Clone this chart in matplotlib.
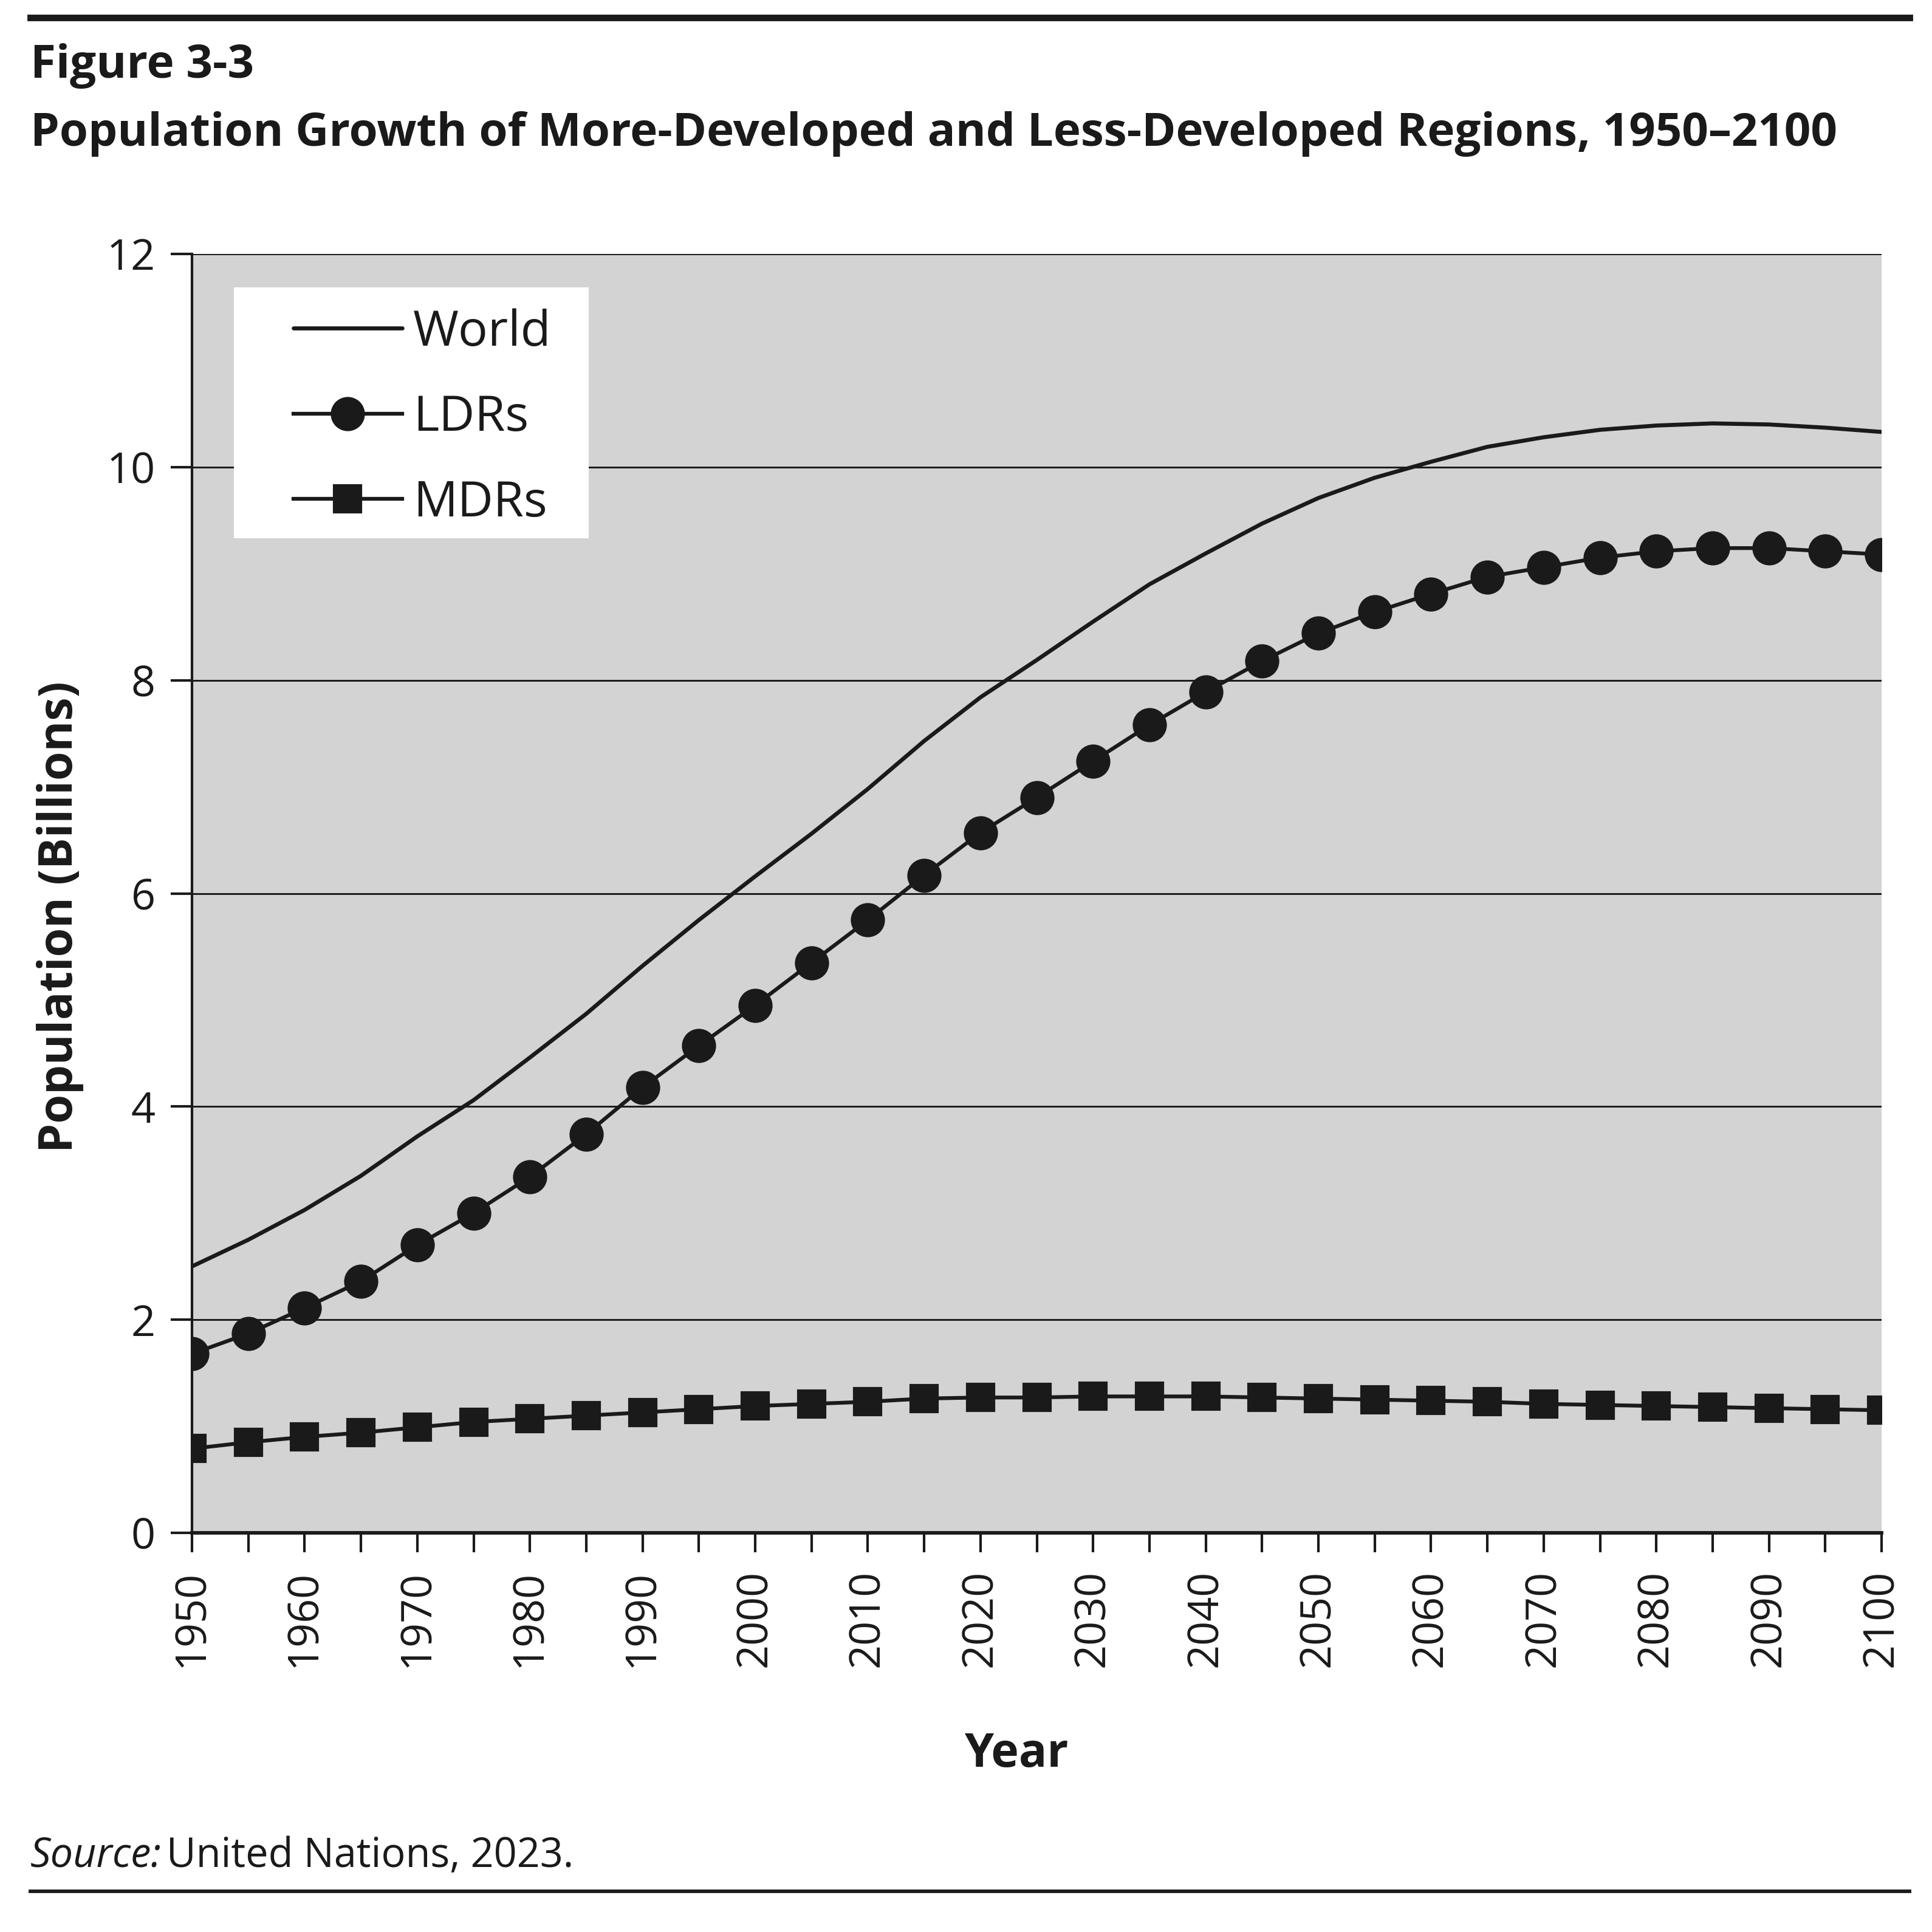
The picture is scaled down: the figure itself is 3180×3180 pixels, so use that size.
import matplotlib
matplotlib.use("Agg")
import matplotlib.pyplot as plt
from matplotlib.lines import Line2D
from matplotlib.patches import Rectangle

years = list(range(1950, 2101, 5))
world = [2.50, 2.75, 3.03, 3.35, 3.72, 4.06, 4.46, 4.87, 5.32, 5.75,
         6.16, 6.56, 6.98, 7.43, 7.84, 8.19, 8.55, 8.90, 9.19, 9.47,
         9.71, 9.90, 10.05, 10.19, 10.28, 10.35, 10.39, 10.41, 10.40, 10.37, 10.33]
ldrs = [1.68, 1.87, 2.11, 2.36, 2.70, 3.00, 3.34, 3.74, 4.18, 4.57,
        4.95, 5.35, 5.75, 6.17, 6.57, 6.90, 7.24, 7.58, 7.89, 8.18,
        8.44, 8.64, 8.81, 8.97, 9.06, 9.15, 9.21, 9.24, 9.24, 9.21, 9.18]
mdrs = [0.79, 0.85, 0.90, 0.94, 0.99, 1.04, 1.07, 1.10, 1.13, 1.16,
        1.19, 1.21, 1.23, 1.26, 1.27, 1.27, 1.28, 1.28, 1.28, 1.27,
        1.26, 1.25, 1.24, 1.23, 1.21, 1.20, 1.19, 1.18, 1.17, 1.16, 1.15]
series_names = ["World", "LDRs", "MDRs"]
y_ticks = [0, 2, 4, 6, 8, 10, 12]
x_label_years = list(range(1950, 2101, 10))

FONT = ["Open Sans", "DejaVu Sans"]
plt.rcParams['font.family'] = FONT
INK = "#1a1a1a"

W = H = 3180
fig = plt.figure(figsize=(10.6, 10.6), dpi=300)

def fx(px):
    return px / W

def fy(py):
    return 1 - py / H

AX_L, AX_R, AX_T, AX_B = 316, 3097, 418, 2523
ax = fig.add_axes([fx(AX_L), fy(AX_B), fx(AX_R) - fx(AX_L), fy(AX_T) - fy(AX_B)])
ax.set_facecolor("#d3d3d3")

def axx(px):
    return (px - AX_L) / (AX_R - AX_L)

def axy(py):
    return (AX_B - py) / (AX_B - AX_T)

ax.plot(years, world, color=INK, lw=1.6, solid_capstyle="round", solid_joinstyle="round",
        label=series_names[0], zorder=3)
ax.plot(years, ldrs, color=INK, lw=1.5, marker="o", markersize=12.5, label=series_names[1], zorder=3)
ax.plot(years, mdrs, color=INK, lw=1.5, marker="s", markersize=10.5, label=series_names[2], zorder=3)

ax.set_xlim(1950, 2100)
ax.set_ylim(0, 12)
ax.set_yticks(y_ticks)
ax.set_xticks(years)
ax.set_xticklabels([str(y) if y in x_label_years else "" for y in years], rotation=90)
for yv in y_ticks[1:]:
    ax.axhline(yv, color=INK, lw=0.7, zorder=1)

for s in ["top", "right"]:
    ax.spines[s].set_visible(False)
ax.spines["left"].set_color(INK)
ax.spines["left"].set_linewidth(1.0)
ax.spines["bottom"].set_color(INK)
ax.spines["bottom"].set_linewidth(1.4)
ax.tick_params(axis="both", direction="out", width=1.0, color=INK,
               labelsize=16.8, labelcolor=INK)
ax.tick_params(axis="y", length=8.5, pad=6)
ax.tick_params(axis="x", length=7.6, pad=7)

ax.set_xlabel("Year", fontsize=18.5, fontweight="bold", color=INK)
ax.set_ylabel("Population (Billions)", fontsize=18.5, fontweight="bold", color=INK)
ax.xaxis.set_label_coords(axx(1673), axy(2849))
ax.yaxis.set_label_coords(axx(138), axy(1509))

# legend box
ax.add_patch(Rectangle((axx(385), axy(886)), axx(969) - axx(385), axy(473) - axy(886),
                       transform=ax.transAxes, facecolor="white", edgecolor="none", zorder=4))
leg = ax.legend(loc="center left", bbox_to_anchor=(axx(483), axy(688)), frameon=False,
                fontsize=19.5, handlelength=2.2, handletextpad=0.22, labelspacing=0.74,
                borderpad=0, borderaxespad=0)
leg.set_zorder(5)
for t in leg.get_texts():
    t.set_color(INK)

# rules and titles
fig.add_artist(Line2D([fx(50), fx(3143)], [fy(29), fy(29)], color=INK, lw=2.6))
fig.add_artist(Line2D([fx(50), fx(3143)], [fy(3113), fy(3113)], color=INK, lw=1.4))
fig.text(fx(50), fy(108), "Figure 3-3", fontsize=18.3, fontweight="bold", color=INK,
         ha="left", va="center")
fig.text(fx(50), fy(220), "Population Growth of More-Developed and Less-Developed Regions, 1950\u20132100",
         fontsize=18.3, fontweight="bold", color=INK, ha="left", va="center")
t1 = fig.text(fx(50), fy(3055), "Source:", fontsize=16, style="italic", color=INK,
              ha="left", va="center")
fig.canvas.draw()
bb = t1.get_window_extent()
fig.text(bb.x1 / W + fx(8), fy(3055), "United Nations, 2023.", fontsize=16, color=INK,
         ha="left", va="center")

fig.savefig("out.png", dpi=300, facecolor="white")
